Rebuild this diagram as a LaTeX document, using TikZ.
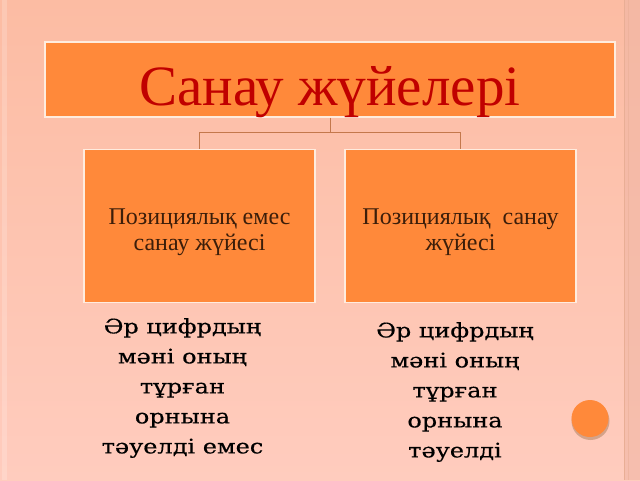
\documentclass[tikz,border=0pt]{standalone}
\usepackage{fontspec}
\setmainfont{Liberation Serif}
\newfontfamily\schoolfont[FakeStretch=1.2,FakeBold=0.4]{DejaVu Serif}
\definecolor{bgtop}{RGB}{252,188,163}
\definecolor{bgbot}{RGB}{255,204,190}
\definecolor{boxfill}{RGB}{255,137,58}
\definecolor{boxline}{RGB}{255,236,222}
\definecolor{titlered}{RGB}{192,0,0}
\definecolor{conncol}{RGB}{196,120,76}
\definecolor{boxtext}{RGB}{60,30,10}
\definecolor{bandcol}{RGB}{240,182,164}
\tikzset{
  orangebox/.style={draw=boxline, line width=1.5pt, fill=boxfill, rectangle, inner sep=0pt},
  boxlabel/.style={align=center, inner sep=0pt, anchor=north, text=boxtext,
      font=\fontsize{24}{26.5}\selectfont},
  conn/.style={draw=conncol, line width=1pt},
  lowtext/.style={align=center, inner sep=0pt, anchor=north,
      font=\schoolfont\fontsize{20}{30}\selectfont, text=black},
}
\begin{document}
\begin{tikzpicture}[x=1pt,y=-1pt]
\useasboundingbox (0,0) rectangle (640,480);
\shade[top color=bgtop, bottom color=bgbot] (0,0) rectangle (640,480);
\fill[bandcol, opacity=0.6] (624,0) rectangle (640,480);
\draw[bandcol!85!brown, line width=0.6pt] (624,0) -- (624,480);
\draw[bandcol!85!brown, opacity=0.5, line width=0.6pt] (628,0) -- (628,480);
\fill[white, opacity=0.18] (2,0) rectangle (7,480);
\node[orangebox, minimum width=570, minimum height=75] (top) at (330,79.5) {};
\node[anchor=base, inner sep=0pt, text=titlered, font=\fontsize{57}{60}\selectfont]
  (title) at (330,105) {Санау жүйелері};
\node[orangebox, minimum width=231, minimum height=153] (l) at (199.5,226) {};
\node[orangebox, minimum width=231, minimum height=153] (r) at (460.5,226) {};
\node[boxlabel] (lt) at (199.5,208.4) {Позициялық емес\\санау жүйесі};
\node[boxlabel] (rt) at (460.5,208.4) {Позициялық\ \ санау\\жүйесі};
\draw[conn] (top.south) -- ++(0,15) -| (l.north);
\draw[conn] (top.south) -- ++(0,15) -| (r.north);
\node[lowtext] (tl) at (182.5,318) {Әр цифрдың\\мәні оның\\тұрған\\орнына\\тәуелді емес};
\node[lowtext] (tr) at (455,322) {Әр цифрдың\\мәні оның\\тұрған\\орнына\\тәуелді};
\fill[brown!70!black, opacity=0.35] (590.5,421) circle (19);
\node[circle, fill=boxfill, minimum size=37, inner sep=0pt] (dot) at (590,418.5) {};
\end{tikzpicture}
\end{document}
